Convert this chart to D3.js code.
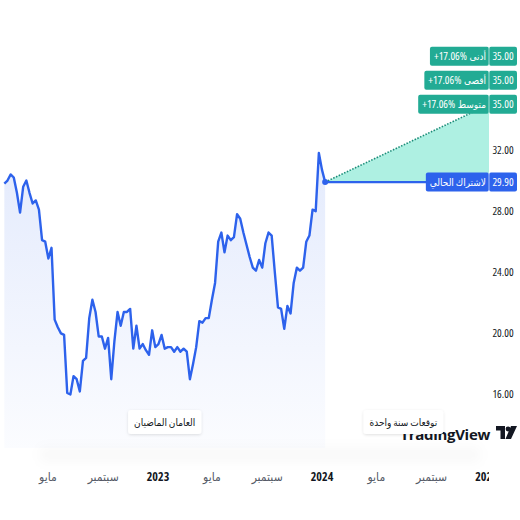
<!DOCTYPE html>
<html>
<head>
<meta charset="utf-8">
<script src="https://cdn.jsdelivr.net/npm/d3@7"></script>
<style>
  body { margin: 0; background: #fff; }
  svg { display: block; }
  text { font-family: 'Open Sans', 'DejaVu Sans', sans-serif; font-stretch: 75%; }
</style>
</head>
<body>
<svg id="chart"></svg>
<script>
var w = 520;
var h = 520;

// weekly closes, two past years
var startWeek = '2022-01-24';
var prices = [
  29.8, 30.0, 30.4, 30.2, 29.2, 27.9, 29.6, 30.0, 29.2, 28.5,
  28.7, 28.1, 26.1, 26.0, 24.9, 25.6, 20.9, 20.4, 20.0, 19.9,
  16.1, 16.0, 17.2, 17.0, 16.2, 18.2, 18.4, 21.0, 22.2, 21.4,
  19.8, 19.8, 19.0, 19.7, 17.0, 19.5, 21.4, 20.5, 21.4, 21.4,
  21.6, 19.0, 20.5, 19.0, 19.3, 18.9, 18.6, 20.2, 19.1, 19.3,
  19.9, 19.0, 19.1, 19.1, 18.8, 19.1, 18.8, 19.0, 18.8, 17.0,
  18.0, 19.1, 20.8, 20.7, 21.0, 21.0, 22.2, 23.3, 26.0, 26.6,
  25.3, 26.4, 26.1, 26.3, 27.8, 27.5, 26.6, 25.8, 25.0, 24.3,
  24.1, 24.8, 24.3, 25.9, 26.6, 26.4, 24.0, 21.7, 21.6, 20.3,
  21.8, 21.3, 23.3, 24.3, 24.1, 24.3, 26.0, 26.4, 28.1, 28.0,
  31.8, 30.7, 29.9
];
var lastPrice = 29.90;
var lastLabel = 'لاشتراك الحالي';
var targetNames = ['أدنى', 'أقصى', 'متوسط'];
var targetValues = [35.00, 35.00, 35.00];
var priceTicks = [16, 20, 24, 28, 32];
var timeTicks = ['2022-05-01', '2022-09-01', '2023-01-01', '2023-05-01', '2023-09-01',
  '2024-01-01', '2024-05-01', '2024-09-01', '2025-01-01'];
var timeTickLabels = ['مايو', 'سبتمبر', '2023', 'مايو', 'سبتمبر', '2024', 'مايو', 'سبتمبر', '2025'];
var periodLabels = ['العامان الماضيان', 'توقعات سنة واحدة'];

var parse = d3.timeParse('%Y-%m-%d');
var start = parse(startWeek);
var series = prices.map(function (p, i) {
  return { date: d3.timeWeek.offset(start, i), value: p };
});
var last = series[series.length - 1];
var forecastEnd = d3.timeYear.offset(last.date, 1);

var blue = '#2d62ec';
var teal = '#22ab94';
var plotRight = 489;
var plotBottom = 448;

var x = d3.scaleTime()
  .domain([parse('2023-01-01'), parse('2024-01-01')])
  .range([158, 322]);
var y = d3.scaleLinear().domain([16, 32]).range([394.5, 150]);

var svg = d3.select('#chart').attr('width', w).attr('height', h);
var defs = svg.append('defs');

var grad = defs.append('linearGradient')
  .attr('id', 'areaGrad').attr('x1', 0).attr('y1', 0).attr('x2', 0).attr('y2', 1);
grad.append('stop').attr('offset', '0%').attr('stop-color', blue).attr('stop-opacity', 0.13);
grad.append('stop').attr('offset', '100%').attr('stop-color', blue).attr('stop-opacity', 0.02);

var band = defs.append('linearGradient')
  .attr('id', 'bandGrad').attr('x1', 0).attr('y1', 0).attr('x2', 0).attr('y2', 1);
band.append('stop').attr('offset', '0%').attr('stop-color', '#000').attr('stop-opacity', 0);
band.append('stop').attr('offset', '45%').attr('stop-color', '#000').attr('stop-opacity', 0.035);
band.append('stop').attr('offset', '100%').attr('stop-color', '#000').attr('stop-opacity', 0);

defs.append('clipPath').attr('id', 'plotClip')
  .append('rect').attr('x', 0).attr('y', 0).attr('width', plotRight).attr('height', h);

var shadow = defs.append('filter').attr('id', 'shadow')
  .attr('x', '-20%').attr('y', '-40%').attr('width', '140%').attr('height', '180%');
shadow.append('feDropShadow').attr('dx', 0).attr('dy', 1).attr('stdDeviation', 1.5)
  .attr('flood-color', '#000').attr('flood-opacity', 0.12);

var blur = defs.append('filter').attr('id', 'soft')
  .attr('x', '-10%').attr('y', '-50%').attr('width', '120%').attr('height', '200%');
blur.append('feGaussianBlur').attr('stdDeviation', 6);

// faint band above the time axis
svg.append('rect')
  .attr('x', 40).attr('y', 444).attr('width', 440).attr('height', 22)
  .attr('fill', 'url(#bandGrad)').attr('filter', 'url(#soft)');

var plot = svg.append('g').attr('clip-path', 'url(#plotClip)');

// history area + line
var area = d3.area()
  .x(function (d) { return x(d.date); })
  .y0(plotBottom)
  .y1(function (d) { return y(d.value); });
var line = d3.line()
  .x(function (d) { return x(d.date); })
  .y(function (d) { return y(d.value); });

plot.append('path').datum(series)
  .attr('d', area).attr('fill', 'url(#areaGrad)');

// forecast wedge
var fx0 = x(last.date), fy0 = y(lastPrice);
var fx1 = x(forecastEnd), fy1 = y(d3.max(targetValues));
plot.append('path')
  .attr('d', 'M' + fx0 + ',' + fy0 + 'L' + fx1 + ',' + fy1 + 'L' + fx1 + ',' + fy0 + 'Z')
  .attr('fill', '#aef0e2');
plot.append('line')
  .attr('x1', fx0).attr('y1', fy0).attr('x2', fx1).attr('y2', fy1)
  .attr('stroke', '#1b8c78').attr('stroke-width', 1.6).attr('stroke-dasharray', '1.5,1.5');

plot.append('line')
  .attr('x1', fx0).attr('y1', fy0).attr('x2', 440).attr('y2', fy0)
  .attr('stroke', blue).attr('stroke-width', 2.2);

plot.append('path').datum(series)
  .attr('d', line).attr('fill', 'none')
  .attr('stroke', blue).attr('stroke-width', 2.4).attr('stroke-linejoin', 'round');

plot.append('circle').attr('cx', fx0).attr('cy', fy0).attr('r', 3).attr('fill', blue);

// price axis labels
svg.selectAll('text.ptick')
  .data(priceTicks)
  .enter()
  .append('text')
  .attr('class', 'ptick')
  .attr('x', 503)
  .attr('y', function (d) { return y(d); })
  .attr('dy', '0.35em')
  .attr('text-anchor', 'middle')
  .attr('font-size', '11px')
  .attr('fill', '#131722')
  .text(function (d) { return d3.format('.2f')(d); });

// time axis labels
var xAxisG = svg.append('g').attr('clip-path', 'url(#plotClip)');
xAxisG.selectAll('text')
  .data(timeTicks)
  .enter()
  .append('text')
  .attr('x', function (d) { return x(parse(d)); })
  .attr('y', 481)
  .attr('text-anchor', 'middle')
  .attr('font-size', '12px')
  .attr('font-weight', function (d, i) { return /^\d/.test(timeTickLabels[i]) ? 'bold' : 'normal'; })
  .attr('fill', function (d, i) { return /^\d/.test(timeTickLabels[i]) ? '#131722' : '#555a66'; })
  .text(function (d, i) { return timeTickLabels[i]; });

// price tag helper: parts are drawn right to left
function tag(cy, leftParts, rightText, color) {
  var g = svg.append('g');
  var xr = plotRight - 3;
  leftParts.forEach(function (s) {
    var arabic = /[\u0600-\u06FF]/.test(s);
    var t = g.append('text')
      .attr('x', xr).attr('y', cy).attr('dy', '0.35em')
      .attr('text-anchor', 'end').attr('font-size', arabic ? '10px' : '11px').attr('fill', '#fff')
      .text(s);
    xr -= t.node().getComputedTextLength() + 2.5;
  });
  var left = xr - 1.5;
  g.insert('rect', 'text')
    .attr('x', left).attr('y', cy - 9.5)
    .attr('width', plotRight - left).attr('height', 19)
    .attr('rx', 2).attr('fill', color);
  g.insert('rect', 'text')
    .attr('x', plotRight).attr('y', cy - 9.5)
    .attr('width', 28).attr('height', 19)
    .attr('rx', 2).attr('fill', color);
  g.append('line')
    .attr('x1', plotRight).attr('x2', plotRight).attr('y1', cy - 9.5).attr('y2', cy + 9.5)
    .attr('stroke', '#fff').attr('stroke-opacity', 0.6);
  g.append('text')
    .attr('x', plotRight + 14).attr('y', cy).attr('dy', '0.35em')
    .attr('text-anchor', 'middle').attr('font-size', '11px').attr('fill', '#fff')
    .text(rightText);
}

tag(y(lastPrice), [lastLabel], d3.format('.2f')(lastPrice), blue);

var n = targetValues.length;
targetValues.forEach(function (v, i) {
  var pct = (v / lastPrice - 1) * 100;
  var cy = y(v) - (n - 1 - i) * 24;
  tag(cy, [targetNames[i], '+' + d3.format('.2f')(pct) + '%'], d3.format('.2f')(v), teal);
});

// logo
var logo = svg.append('g');
logo.append('text')
  .attr('x', 490).attr('y', 440)
  .attr('text-anchor', 'end')
  .attr('font-family', 'Inter, Roboto, sans-serif')
  .style('font-stretch', '100%')
  .attr('font-size', '15px').attr('font-weight', 'bold')
  .attr('fill', '#131722')
  .style('letter-spacing', '-0.3px')
  .text('TradingView');
logo.append('path')
  .attr('d', 'M496,426 h9 v13 h-4.5 v-8.5 h-4.5 Z M511,426 h6 l-6,13 h-5.5 Z')
  .attr('fill', '#131722');
logo.append('circle').attr('cx', 508).attr('cy', 429).attr('r', 2.4).attr('fill', '#131722');

// period captions
var periods = [
  { text: periodLabels[0], cx: (x(series[0].date) + x(last.date)) / 2 },
  { text: periodLabels[1], cx: (x(last.date) + x(forecastEnd)) / 2 - 4 }
];
periods.forEach(function (p) {
  var g = svg.append('g');
  var t = g.append('text')
    .attr('x', p.cx).attr('y', 422).attr('dy', '0.35em')
    .attr('text-anchor', 'middle').attr('font-size', '10px').attr('fill', '#131722')
    .text(p.text);
  var tw = t.node().getComputedTextLength();
  g.insert('rect', 'text')
    .attr('x', p.cx - tw / 2 - 6).attr('y', 410)
    .attr('width', tw + 12).attr('height', 24)
    .attr('rx', 3).attr('fill', '#fff')
    .attr('filter', 'url(#shadow)');
});
</script>
</body>
</html>
